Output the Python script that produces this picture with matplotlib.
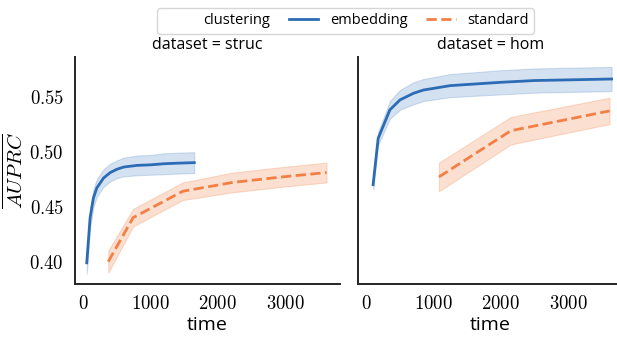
import matplotlib
matplotlib.use("Agg")
import matplotlib.pyplot as plt
from matplotlib.lines import Line2D
from matplotlib.ticker import FuncFormatter
import numpy as np

plt.rcParams['font.family'] = ['Open Sans', 'DejaVu Sans']
plt.rcParams['mathtext.fontset'] = 'cm'

blue = "#2b6cb5"
orange = "#f28044"

# struc panel
struc_emb_t = [50, 100, 150, 200, 300, 400, 500, 600, 800, 1000, 1200, 1400, 1650]
struc_emb_y = [0.399, 0.440, 0.458, 0.467, 0.476, 0.481, 0.484, 0.486, 0.4875, 0.488, 0.489, 0.4895, 0.490]
struc_emb_e = [0.010, 0.009, 0.008, 0.008, 0.008, 0.008, 0.008, 0.0085, 0.009, 0.009, 0.0095, 0.0095, 0.0095]
struc_std_t = [370, 740, 1480, 2220, 2960, 3620]
struc_std_y = [0.400, 0.440, 0.464, 0.472, 0.477, 0.481]
struc_std_e = [0.010, 0.008, 0.008, 0.009, 0.009, 0.009]

# hom panel
hom_emb_t = [100, 175, 350, 500, 700, 850, 1250, 2000, 2500, 3650]
hom_emb_y = [0.470, 0.512, 0.538, 0.547, 0.553, 0.556, 0.560, 0.563, 0.5646, 0.566]
hom_emb_e = [0.004, 0.006, 0.008, 0.009, 0.010, 0.010, 0.0105, 0.011, 0.011, 0.011]
hom_std_t = [1080, 2150, 3620]
hom_std_y = [0.477, 0.519, 0.537]
hom_std_e = [0.013, 0.0125, 0.012]

panels = [
    ("struc", struc_emb_t, struc_emb_y, struc_emb_e, struc_std_t, struc_std_y, struc_std_e),
    ("hom", hom_emb_t, hom_emb_y, hom_emb_e, hom_std_t, hom_std_y, hom_std_e),
]

fig = plt.figure(figsize=(6.17, 3.37), dpi=100)
lefts = [75 / 617, 358 / 617]
axes = []
for left, (name, et, ey, ee, st, sy, se) in zip(lefts, panels):
    ax = fig.add_axes([left, 53 / 337, 265 / 617, 227 / 337])
    et, ey, ee = np.array(et), np.array(ey), np.array(ee)
    st, sy, se = np.array(st), np.array(sy), np.array(se)
    ax.fill_between(et, ey - ee, ey + ee, color=blue, alpha=0.2, lw=0.8)
    ax.plot(et, ey, color=blue, lw=2)
    ax.fill_between(st, sy - se, sy + se, color=orange, alpha=0.25, lw=0.8)
    ax.plot(st, sy, color=orange, lw=2, ls=(0, (3.7, 1.6)))
    ax.set_xlim(-125, 3820)
    ax.set_ylim(0.3797, 0.586)
    ax.set_xticks([0, 1000, 2000, 3000])
    ax.set_yticks([0.40, 0.45, 0.50, 0.55])
    ax.xaxis.set_major_formatter(FuncFormatter(lambda v, p: f"${v:.0f}$"))
    ax.yaxis.set_major_formatter(FuncFormatter(lambda v, p: f"${v:.2f}$"))
    ax.tick_params(length=0, labelsize=13.5, pad=8)
    for s in ["top", "right"]:
        ax.spines[s].set_visible(False)
    for s in ["left", "bottom"]:
        ax.spines[s].set_color("#262626")
        ax.spines[s].set_linewidth(1.4)
    ax.set_title(f"dataset = {name}", fontsize=11.5, pad=6)
    ax.set_xlabel("time", fontsize=14, labelpad=2)
    axes.append(ax)

axes[1].tick_params(labelleft=False)
axes[0].set_ylabel(r"$\overline{AUPRC}$", fontsize=15, labelpad=1)

handles = [Line2D([], [], color="none"),
           Line2D([], [], color=blue, lw=2),
           Line2D([], [], color=orange, lw=2, ls=(0, (3.7, 1.6)))]
labels = ["clustering", "embedding", "standard"]
fig.legend(handles, labels, ncol=3, loc="upper center", bbox_to_anchor=(0.56, 0.997),
           fontsize=10.5, frameon=True, handlelength=2.0, columnspacing=1.3,
           borderpad=0.35, handletextpad=0.8, edgecolor="#cccccc")

fig.savefig("out.png", dpi=100)
